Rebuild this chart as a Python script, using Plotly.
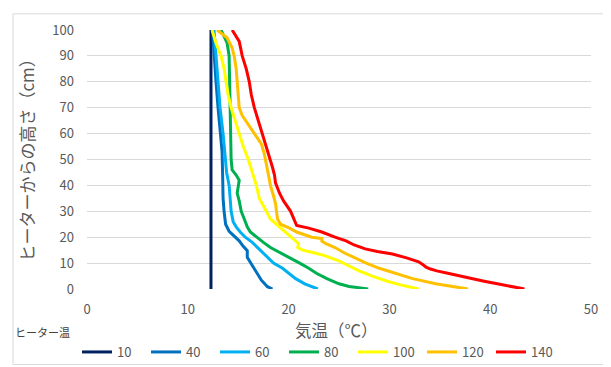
import plotly.graph_objects as go

# Heater temperature series (legend labels)
series_names = ["10", "40", "60", "80", "100", "120", "140"]
series_colors = ["#002060", "#0070C0", "#00B0F0", "#00B050", "#FFFF00", "#FFC000", "#FF0000"]

# Height above heater (cm) and air temperature (°C) for each series
h_10 = [100, 50, 0]
t_10 = [12.3, 12.3, 12.3]

h_40 = [100, 90, 80, 70, 60, 53, 45, 40, 35, 30, 25, 22.3, 20.5, 18.6, 16.5, 14.8, 12.2, 9.7, 7.5, 5.9, 3.4, 0.9, 0]
t_40 = [12.45, 12.6, 12.8, 13.0, 13.2, 13.4, 13.45, 13.45, 13.5, 13.6, 13.75, 14.1, 14.6, 15.1, 15.5, 15.9, 15.9, 16.3, 16.6, 16.9, 17.3, 17.9, 18.4]

h_60 = [100, 90, 80, 70, 60, 50, 45, 40, 35, 30, 26, 24, 22, 20, 18, 16, 14, 12, 10, 8, 6, 4, 2, 0]
t_60 = [12.6, 12.8, 13.0, 13.2, 13.5, 13.75, 13.85, 14.1, 14.2, 14.3, 14.5, 14.8, 15.2, 15.7, 16.4, 16.9, 17.4, 17.9, 18.5, 19.4, 20.0, 20.7, 21.6, 22.9]

h_80 = [100, 97, 95, 90, 80, 70, 60, 50, 46, 44, 42, 40, 37, 34, 30, 27, 24, 22, 20, 18, 16, 14, 12, 10, 8, 6, 4, 2, 1, 0]
t_80 = [13.3, 13.7, 13.9, 14.1, 14.15, 14.2, 14.25, 14.3, 14.4, 14.8, 15.1, 15.0, 14.9, 15.1, 15.3, 15.6, 15.9, 16.2, 16.8, 17.5, 18.2, 19.2, 20.2, 21.1, 22.0, 22.8, 23.8, 25.0, 26.0, 27.9]

h_100 = [100, 95, 90, 85, 80, 75, 70, 65, 60, 55, 50, 45, 40, 35, 30, 27, 25, 23, 21, 19, 17.5, 16, 15, 14, 13, 11, 9, 7, 5, 3, 1.5, 0]
t_100 = [12.4, 12.8, 13.3, 13.6, 13.8, 14.0, 14.3, 14.7, 15.1, 15.5, 16.0, 16.4, 16.8, 17.1, 17.8, 18.2, 18.8, 19.4, 19.9, 20.6, 21.0, 20.9, 21.4, 22.5, 23.5, 24.9, 25.9, 27.0, 28.3, 29.8, 31.2, 32.9]

h_120 = [100, 97, 93, 90, 85, 80, 75, 70, 67, 64, 60, 56, 52, 48, 44, 40, 36, 33, 30, 27, 25, 23.5, 22, 21, 20, 19.5, 18.5, 17.5, 16, 14, 12, 10, 8, 6, 4, 2, 1, 0]
t_120 = [12.9, 13.9, 14.4, 14.6, 14.8, 14.9, 15.0, 15.1, 15.4, 15.9, 16.6, 17.3, 17.6, 17.8, 18.0, 18.2, 18.5, 18.7, 18.8, 18.9, 19.2, 20.1, 20.8, 21.5, 22.3, 23.3, 23.3, 23.7, 24.6, 25.5, 26.6, 27.7, 29.0, 30.6, 32.3, 34.6, 36.0, 37.8]

h_140 = [100, 95.6, 90, 85, 80, 75, 70, 65, 60, 55, 51, 47, 44, 41, 37, 34, 30, 27, 25, 24.5, 23.5, 22, 20, 18.6, 17, 15.5, 14.5, 13.5, 12, 10.5, 9.5, 8.5, 7.8, 7, 6, 5, 4, 3, 2, 1, 0]
t_140 = [14.4, 15.1, 15.4, 15.8, 16.1, 16.3, 16.6, 17.0, 17.4, 17.8, 18.1, 18.4, 18.6, 18.7, 19.1, 19.5, 20.2, 20.5, 20.7, 20.8, 22.0, 23.3, 24.6, 25.7, 26.5, 27.6, 28.8, 30.3, 31.7, 32.9, 33.3, 33.6, 34.0, 34.7, 35.9, 37.0, 38.4, 39.4, 40.7, 42.0, 43.4]

heights = [h_10, h_40, h_60, h_80, h_100, h_120, h_140]
temps = [t_10, t_40, t_60, t_80, t_100, t_120, t_140]

x_ticks = [0, 10, 20, 30, 40, 50]
y_ticks = [0, 10, 20, 30, 40, 50, 60, 70, 80, 90, 100]

FONT = "Noto Sans CJK JP, Noto Sans, sans-serif"
GRAY = "#595959"

fig = go.Figure()
for name, color, h, t in zip(series_names, series_colors, heights, temps):
    fig.add_trace(go.Scatter(x=t, y=h, mode="lines", name=name,
                             line=dict(color=color, width=3)))

# The page body adds an 8px offset; the figure is sized to fill the rest of the window.
OFF = 8
W, H = 611 - OFF, 367 - OFF
L, R, T, B = 87 - OFF, 611 - 591, 25 - OFF, 367 - 289
pw, ph = W - L - R, H - T - B

def px_x(px):
    return (px - OFF - L) / pw

def px_y(py):
    return (H - B - (py - OFF)) / ph

def cx(px):
    return (px - OFF) / W

def cy(py):
    return 1 - (py - OFF) / H

fig.update_layout(
    width=W, height=H,
    margin=dict(l=L, r=R, t=T, b=B),
    paper_bgcolor="white", plot_bgcolor="white",
    font=dict(family=FONT, color=GRAY, size=13),
    showlegend=True,
    legend=dict(orientation="h", xref="container", yref="container",
                x=cx(77), xanchor="left", y=cy(352), yanchor="middle",
                font=dict(size=13, color=GRAY), itemwidth=30, tracegroupgap=0,
                entrywidth=24, entrywidthmode="pixels",
                bgcolor="rgba(0,0,0,0)"),
    xaxis=dict(range=[0, 50], tickvals=x_ticks, showgrid=False, zeroline=False,
               showline=False, ticks="", ticklabelstandoff=11,
               tickfont=dict(size=13, color=GRAY)),
    yaxis=dict(range=[0, 100], tickvals=y_ticks, showgrid=True, gridcolor="#D9D9D9",
               gridwidth=1, zeroline=False, showline=False, ticks="",
               ticklabelstandoff=12, tickfont=dict(size=13, color=GRAY)),
    annotations=[
        dict(text="ヒーターからの高さ（cm）", xref="paper", yref="paper",
             x=px_x(27), y=px_y(154), textangle=-90, showarrow=False,
             font=dict(size=17, color=GRAY, family=FONT), xanchor="center", yanchor="middle"),
        dict(text="気温（℃）", xref="paper", yref="paper",
             x=px_x(336), y=px_y(331), showarrow=False,
             font=dict(size=16.5, color=GRAY, family=FONT), xanchor="center", yanchor="middle"),
        dict(text="ヒーター温", xref="paper", yref="paper",
             x=px_x(13), y=px_y(333), showarrow=False,
             font=dict(size=11, color="#404040", family=FONT), xanchor="left", yanchor="middle"),
    ],
    shapes=[
        dict(type="rect", xref="paper", yref="paper",
             x0=px_x(13), x1=px_x(606), y0=px_y(366), y1=px_y(8.5),
             line=dict(color="#D9D9D9", width=1), fillcolor="rgba(0,0,0,0)", layer="below"),
    ],
)

fig.write_html("out.html")
